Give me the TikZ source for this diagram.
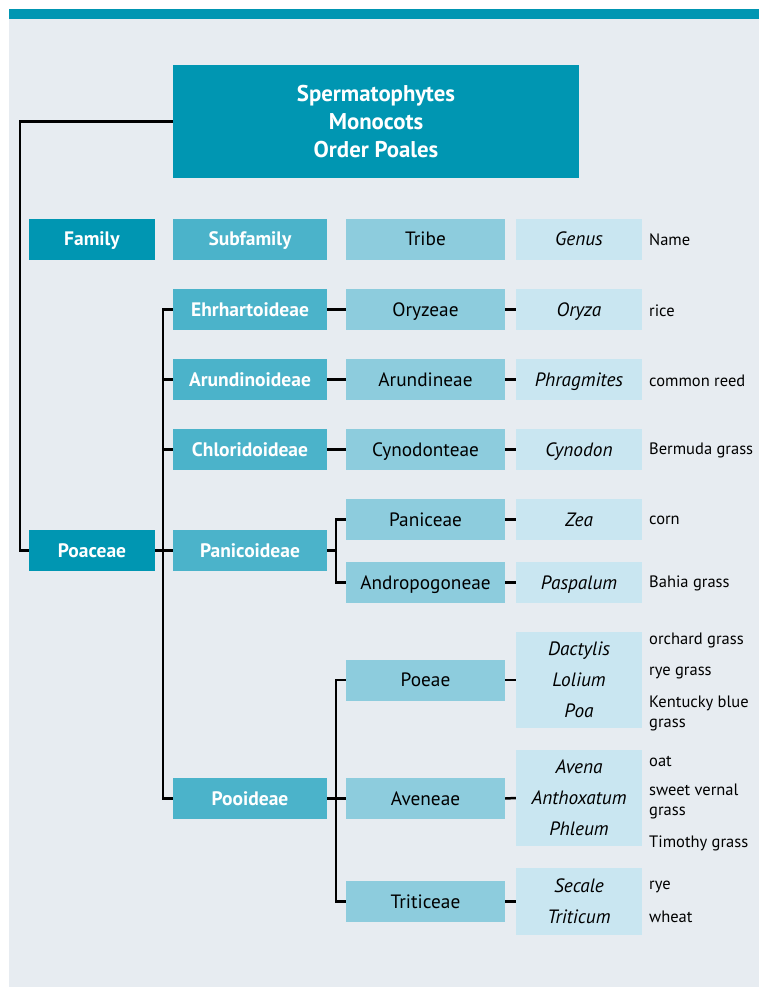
\documentclass[tikz,border=0pt]{standalone}
\usepackage{fontspec}
\setmainfont{PT Sans}
\definecolor{bg}{HTML}{E7ECF1}
\definecolor{c1}{HTML}{0096B2}
\definecolor{c2}{HTML}{4BB3CA}
\definecolor{c3}{HTML}{8DCCDD}
\definecolor{c4}{HTML}{C9E6F1}
\newcommand{\bfs}{\fontsize{19.5}{22}\selectfont}
\newcommand{\rfs}{\fontsize{19.3}{22}\selectfont}
\newcommand{\nfs}{\fontsize{16.5}{20}\selectfont}
\tikzset{
  box/.style={rectangle, inner sep=0pt, minimum height=41pt, align=center},
  one/.style={text height=17.5pt, text depth=4pt},
  famb/.style={box, one, fill=c1, text=white, font=\bfs\bfseries, minimum width=126pt},
  subb/.style={box, one, fill=c2, text=white, font=\bfs\bfseries, minimum width=154pt},
  tribeb/.style={box, one, fill=c3, text=black, font=\rfs, minimum width=159pt},
  genm/.style={box, fill=c4, text=black, font={\fontsize{19.3}{31}\selectfont\itshape}, minimum width=126pt},
  genb/.style={genm, one},
  namet/.style={anchor=west, inner sep=0pt, align=left, font=\nfs, text=black, yshift=-1pt},
  conn/.style={draw=black, line width=2.5pt}
}
\begin{document}
\begin{tikzpicture}[x=1pt,y=-1pt]
\useasboundingbox (0,0) rectangle (759,987);
\fill[white] (0,0) rectangle (759,987);
\fill[bg] (9,19) rectangle (759,987);
\fill[c1] (9,9) rectangle (759,19);

% top box
\node[rectangle, fill=c1, text=white, inner sep=0pt, minimum width=406pt, minimum height=113pt,
      font={\fontsize{22.8}{28}\selectfont\bfseries}, align=center] (top) at (376,121.5)
      {Spermatophytes\\Monocots\\Order Poales};

% header row
\node[famb] (hfam) at (92,239) {Family};
\node[subb] (hsub) at (250,239) {Subfamily};
\node[tribeb] (htri) at (425.5,239) {Tribe};
\node[genb] (hgen) at (579,239) {Genus};
\node[namet] (hname) at (649,239) {Name};

% family
\node[famb] (poa) at (92,550.5) {Poaceae};

% subfamilies
\node[subb] (ehr) at (250,309.5) {Ehrhartoideae};
\node[subb] (aru) at (250,379.5) {Arundinoideae};
\node[subb] (chl) at (250,449.5) {Chloridoideae};
\node[subb] (pan) at (250,550.5) {Panicoideae};
\node[subb] (poo) at (250,798.5) {Pooideae};

% tribes
\node[tribeb] (ory) at (425.5,309.5) {Oryzeae};
\node[tribeb] (arn) at (425.5,379.5) {Arundineae};
\node[tribeb] (cyn) at (425.5,449.5) {Cynodonteae};
\node[tribeb] (pnc) at (425.5,519.5) {Paniceae};
\node[tribeb] (and) at (425.5,582.5) {Andropogoneae};
\node[tribeb] (poe) at (425.5,680) {Poeae};
\node[tribeb] (ave) at (425.5,798.5) {Aveneae};
\node[tribeb] (tri) at (425.5,901.5) {Triticeae};

% genera
\node[genb] (g1) at (579,309.5) {Oryza};
\node[genb] (g2) at (579,379.5) {Phragmites};
\node[genb] (g3) at (579,449.5) {Cynodon};
\node[genb] (g4) at (579,519.5) {Zea};
\node[genb] (g5) at (579,582.5) {Paspalum};
\node[genm, minimum height=96pt] (g6) at (579,680) {Dactylis\\Lolium\\Poa};
\node[genm, minimum height=96pt] (g7) at (579,798) {Avena\\Anthoxatum\\Phleum};
\node[genm, minimum height=67pt] (g8) at (579,901.5) {Secale\\Triticum};

% names
\node[namet] (n1) at (649,309.5) {rice};
\node[namet] (n2) at (649,379.5) {common reed};
\node[namet] (n3) at (649,449.5) {Bermuda grass};
\node[namet] (n4) at (649,519.5) {corn};
\node[namet] (n5) at (649,582.5) {Bahia grass};
\node[namet] (n6a) at (649,639) {orchard grass};
\node[namet] (n6b) at (649,672) {rye grass};
\node[namet] (n6c) at (649,712) {Kentucky blue\\grass};
\node[namet] (n7a) at (649,760) {oat};
\node[namet] (n7b) at (649,800.5) {sweet vernal\\grass};
\node[namet] (n7c) at (649,842) {Timothy grass};
\node[namet] (n8a) at (649,886) {rye};
\node[namet] (n8b) at (649,916) {wheat};

% junction coordinates
\coordinate (jl) at (20,0);
\coordinate (js) at (163,0);
\coordinate (jt) at (336,0);

% connectors
\draw[conn] (top.west) -- (top.west -| jl) -- (poa.west -| jl) -- (poa.west);
\draw[conn] (poa.east) -- (poa.east -| js);
\draw[conn] (ehr.west) -- (ehr.west -| js) -- (poo.west -| js) -- (poo.west);
\draw[conn] (aru.west) -- (aru.west -| js);
\draw[conn] (chl.west) -- (chl.west -| js);
\draw[conn] (pan.west) -- (pan.west -| js);

\draw[conn] (ehr.east) -- (ory.west);
\draw[conn] (aru.east) -- (arn.west);
\draw[conn] (chl.east) -- (cyn.west);
\draw[conn] (pan.east) -- (pan.east -| jt);
\draw[conn] (pnc.west) -- (pnc.west -| jt) -- (and.west -| jt) -- (and.west);
\draw[conn] (poo.east) -- (poo.east -| jt);
\draw[conn] (poe.west) -- (poe.west -| jt) -- (tri.west -| jt) -- (tri.west);
\draw[conn] (ave.west) -- (ave.west -| jt);

\draw[conn] (ory.east) -- (g1.west);
\draw[conn] (arn.east) -- (g2.west);
\draw[conn] (cyn.east) -- (g3.west);
\draw[conn] (pnc.east) -- (g4.west);
\draw[conn] (and.east) -- (g5.west);
\draw[conn] (poe.east) -- (g6.west);
\draw[conn] (ave.east) -- (g7.west);
\draw[conn] (tri.east) -- (g8.west);
\end{tikzpicture}
\end{document}
